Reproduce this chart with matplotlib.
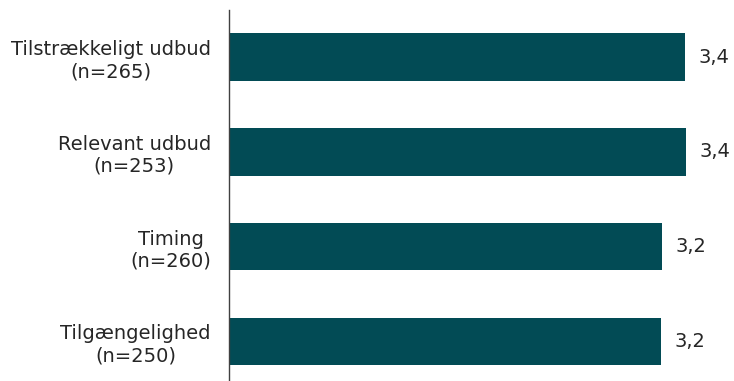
import matplotlib
matplotlib.use('Agg')
import matplotlib.pyplot as plt

plt.rcParams['font.family'] = ['DejaVu Sans']

# Average scores per item
categories = ['Tilstrækkeligt udbud', 'Relevant udbud', 'Timing', 'Tilgængelighed']
counts = [265, 253, 260, 250]
scores = [3.42, 3.43, 3.25, 3.24]

bar_color = '#024b55'
text_color = '#262626'

fig = plt.figure(figsize=(7.34, 3.81), dpi=100)
fig.patch.set_facecolor('white')
ax = fig.add_axes([229 / 734, 0, 1 - 229 / 734, 371 / 381])

ypos = range(len(categories))
ax.barh(list(ypos), scores, height=0.5, color=bar_color)

for y, v in zip(ypos, scores):
    ax.text(v + 0.1, y, f'{v:.1f}'.replace('.', ','), va='center', ha='left',
            fontsize=14, color=text_color)

labels = [f'{c}\n(n={n})' for c, n in zip(categories, counts)]
ax.set_yticks(list(ypos))
ax.set_yticklabels(labels, fontsize=14, color=text_color, ma='center')
ax.tick_params(axis='y', length=0, pad=13)
ax.set_xticks([])

ax.set_xlim(0, 3.788)
ax.set_ylim(3.417, -0.496)

for s in ['top', 'right', 'bottom']:
    ax.spines[s].set_visible(False)
ax.spines['left'].set_color('#404040')
ax.spines['left'].set_linewidth(1.0)

fig.savefig('out.png', dpi=100, facecolor='white')
